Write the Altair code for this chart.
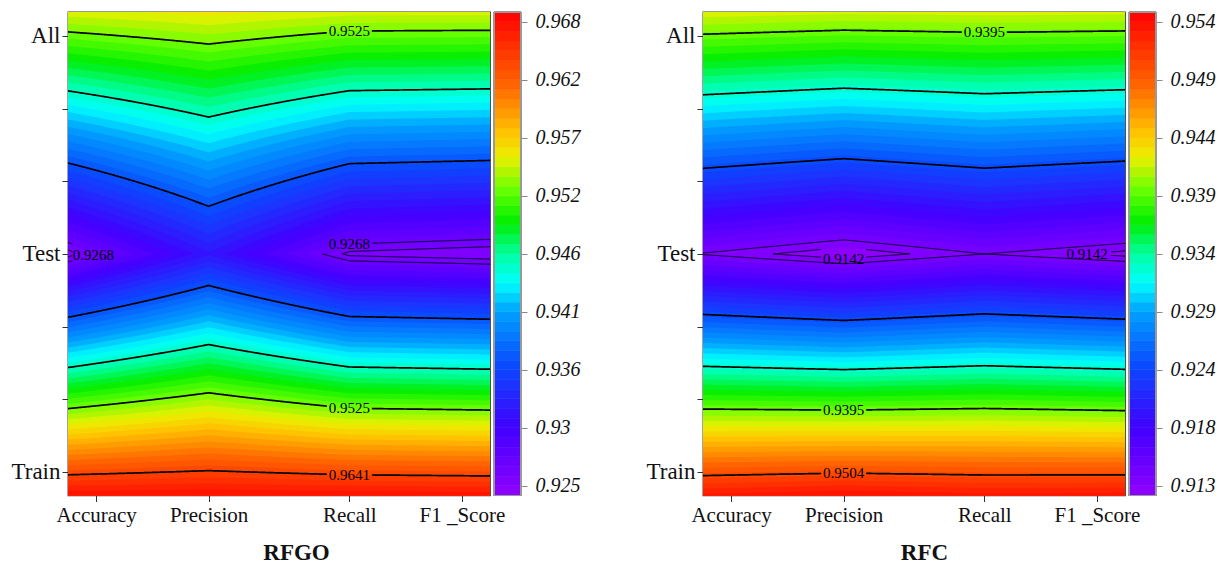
import altair as alt
import numpy as np
import pandas as pd

# ---------------- data ----------------
metrics = ["Accuracy", "Precision", "Recall", "F1 _Score"]
datasets = ["Train", "Test", "All"]

# RFGO: value per metric for each data set
rfgo_train = [0.9636, 0.9643, 0.9636, 0.9634]
rfgo_test = [0.9254, 0.9318, 0.9256, 0.9250]
rfgo_all = [0.9520, 0.9533, 0.9519, 0.9518]
rfgo_levels = [0.9259, 0.9268, 0.9365, 0.9453, 0.9525, 0.9641]
rfgo_cbar = [0.9239, 0.9687]          # colour-bar range (50 bands)

# RFC
rfc_train = [0.9498, 0.9502, 0.9499, 0.9499]
rfc_test = [0.9141, 0.9125, 0.9142, 0.91294]
rfc_all = [0.9393, 0.9388, 0.9391, 0.9389]
rfc_levels = [0.9133, 0.9142, 0.9240, 0.9325, 0.9395, 0.9504]
rfc_cbar = [0.91245, 0.9551]

# ---------------- display settings ----------------
NB = 50
XN = [0, 1, 2, 3]
Y0, Y1 = 0.892, 3.11
W, H = 422, 483.5
EPS = 0.004
FONT = "Liberation Serif"
x_ticks = [0.2, 1, 2, 2.8]
y_ticks = [1, 4 / 3, 5 / 3, 2, 7 / 3, 8 / 3, 3]
y_named = {1: datasets[0], 2: datasets[1], 3: datasets[2]}

stops = [(0.0, (145, 0, 255)), (0.14, (65, 0, 255)), (0.27, (10, 75, 255)),
         (0.38, (0, 160, 255)), (0.44, (0, 255, 255)), (0.50, (0, 255, 160)),
         (0.565, (0, 238, 0)), (0.63, (100, 255, 0)), (0.70, (235, 240, 0)),
         (0.75, (255, 195, 0)), (0.85, (255, 100, 0)), (1.0, (255, 0, 0))]


def cmap(s):
    for j in range(len(stops) - 1):
        s0, c0 = stops[j]
        s1, c1 = stops[j + 1]
        if s0 <= s <= s1:
            f = (s - s0) / (s1 - s0)
            c = [round(a + (b - a) * f) for a, b in zip(c0, c1)]
            return "#%02x%02x%02x" % tuple(c)
    return "#ff0000"


band_cols = [cmap((k + 0.5) / NB) for k in range(NB)]


def columns(train, test, all_, x):
    return (np.interp(x, XN, train), np.interp(x, XN, test), np.interp(x, XN, all_))


def fill_frame(train, test, all_, cbar):
    vmin, vmax = cbar
    band = (vmax - vmin) / NB
    xs = np.linspace(0, 3, 151)
    R, T, A = columns(train, test, all_, xs)
    parts = []
    for k in range(NB):
        L = vmin + k * band
        ylo = np.where(L > T, 2 - (L - T) / (R - T), 2 + EPS)
        ylo = np.clip(ylo, Y0, Y1)
        if not np.all(ylo <= Y0 + 1e-9):
            parts.append(pd.DataFrame({"x": xs.round(4), "y": ylo.round(5), "y2": Y0,
                                       "c": band_cols[k], "s": "%02da" % k}))
        yup = np.where(L > T, 2 + (L - T) / (A - T), 2.0)
        yup = np.clip(yup, Y0, Y1)
        if not np.all(yup >= Y1 - 1e-9):
            parts.append(pd.DataFrame({"x": xs.round(4), "y": yup.round(5), "y2": Y1,
                                       "c": band_cols[k], "s": "%02db" % k}))
    return pd.concat(parts, ignore_index=True)


def contour_frame(train, test, all_, levels, gaps):
    base = np.linspace(0, 3, 601)
    rows = []
    for li, L in enumerate(levels):
        extra = []
        for i in range(3):
            t0, t1 = test[i], test[i + 1]
            if (t0 - L) * (t1 - L) < 0:
                extra.append(i + (L - t0) / (t1 - t0))
        xx = np.unique(np.concatenate([base, np.array(extra)]))
        R, T, A = columns(train, test, all_, xx)
        for side in ("low", "up"):
            ok = T <= L + 1e-9
            if side == "low":
                y = 2 - (L - T) / (R - T)
            else:
                y = 2 + (L - T) / (A - T)
            ok &= (y > Y0 - 0.05) & (y < Y1 + 0.05)
            for (a, b) in gaps.get((li, side), []):
                ok &= ~((xx > a) & (xx < b))
            run = 0
            prev = False
            for x, yy, o in zip(xx, y, ok):
                if o:
                    if not prev:
                        run += 1
                    rows.append({"x": round(float(x), 4), "y": round(float(yy), 5),
                                 "s": "%d%s%d" % (li, side, run),
                                 "w": 0.9 if li < 2 else 1.7})
                prev = bool(o)
    return pd.DataFrame(rows)


def label_frame(train, test, all_, levels, labels):
    rows = []
    for (ti, x, yi, side) in labels:
        R, T, A = columns(train, test, all_, np.array([x]))
        L = levels[yi]
        d = max(L - T[0], 0.0)
        y = 2 - d / (R[0] - T[0]) if side == "low" else 2 + d / (A[0] - T[0])
        rows.append({"x": x, "y": y, "t": "%.4f" % levels[ti]})
    return pd.DataFrame(rows)


def cbar_frame(cbar):
    vmin, vmax = cbar
    band = (vmax - vmin) / NB
    return pd.DataFrame({"lo": [vmin + k * band for k in range(NB)],
                         "hi": [vmin + (k + 1) * band for k in range(NB)],
                         "c": band_cols})


x_expr = "".join("abs(datum.value-%s)<0.01 ? '%s' : " % (v, m) for v, m in zip(x_ticks, metrics)) + "''"
y_expr = "".join("abs(datum.value-%d)<0.01 ? '%s' : " % (v, n) for v, n in y_named.items()) + "''"


def panel(name, train, test, all_, levels, cbar, labels, gaps, title_x):
    xsc = alt.Scale(domain=[0, 3], nice=False, zero=False)
    ysc = alt.Scale(domain=[Y0, Y1], nice=False, zero=False)
    xax = alt.Axis(values=x_ticks, labelExpr=x_expr, title=name, grid=False, domain=False,
                   tickSize=6, tickColor="#333", labelFont=FONT, labelFontSize=21,
                   labelColor="#111", labelPadding=3, titleFont=FONT, titleFontSize=23,
                   titleFontWeight="bold", titleColor="#111", titleX=title_x, titleY=64,
                   titleBaseline="alphabetic", titleAlign="center")
    yax = alt.Axis(values=y_ticks, labelExpr=y_expr, title=None, grid=False, domain=False,
                   tickSize=6, tickColor="#333", labelFont=FONT, labelFontSize=23,
                   labelColor="#111", labelPadding=2)
    X = alt.X("x:Q", scale=xsc, axis=xax)
    Y = alt.Y("y:Q", scale=ysc, axis=yax)

    fill = alt.Chart(fill_frame(train, test, all_, cbar)).mark_area(
        orient="vertical", interpolate="linear").encode(
        x=X, y=Y, y2="y2:Q", color=alt.Color("c:N", scale=None), detail="s:N")
    lines = alt.Chart(contour_frame(train, test, all_, levels, gaps)).mark_line(
        color="black", clip=True).encode(
        x=X, y=Y, detail="s:N", strokeWidth=alt.StrokeWidth("w:Q", scale=None))
    texts = alt.Chart(label_frame(train, test, all_, levels, labels)).mark_text(
        font=FONT, fontSize=15, color="black", align="center", baseline="middle").encode(
        x=X, y=Y, text="t:N")
    main = alt.layer(fill, lines, texts)

    vmin, vmax = cbar
    band = (vmax - vmin) / NB
    ticks = [vmin + band * (1 + 6 * k) for k in range(9)]
    cb = alt.Chart(cbar_frame(cbar)).mark_rect(strokeWidth=0.6).encode(
        x=alt.value(426), x2=alt.value(453),
        y=alt.Y("lo:Q", scale=alt.Scale(domain=[vmin, vmax], nice=False, zero=False),
                axis=alt.Axis(orient="right", offset=31, values=ticks, format=".3~f",
                              domain=False, grid=False, title=None, tickSize=6,
                              tickColor="#888", labelFont=FONT, labelFontStyle="italic",
                              labelFontSize=20, labelColor="#111", labelPadding=8)),
        y2="hi:Q", color=alt.Color("c:N", scale=None), stroke=alt.Stroke("c:N", scale=None))
    frame = alt.Chart(cbar_frame(cbar)).mark_rect(filled=False, stroke="#999", strokeWidth=1).encode(
        x=alt.value(426), x2=alt.value(453), y=alt.value(0), y2=alt.value(H))
    side = alt.layer(cb, frame)
    return alt.layer(main, side).resolve_scale(y="independent").properties(width=W, height=H)


rfgo_labels = [(4, 2.0, 4, "up"), (4, 2.0, 4, "low"), (5, 2.0, 5, "low"),
               (1, 0.18, 1, "low"), (1, 2.0, 1, "up")]
rfgo_gaps = {(4, "up"): [(1.84, 2.16)], (4, "low"): [(1.84, 2.16)], (5, "low"): [(1.84, 2.16)],
             (1, "up"): [(1.70, 2.16), (0.03, 0.33)], (1, "low"): [(0.03, 0.33)],
             (0, "up"): [(0.03, 0.33)], (0, "low"): [(0.03, 0.33)]}
rfc_labels = [(4, 2.0, 4, "up"), (4, 1.0, 4, "low"), (5, 1.0, 5, "low"),
              (1, 1.0, 0, "low"), (1, 2.73, 0, "low")]
rfc_gaps = {(4, "up"): [(1.84, 2.16)], (4, "low"): [(0.84, 1.16)], (5, "low"): [(0.84, 1.16)],
            (0, "low"): [(0.84, 1.16), (2.57, 2.90)], (0, "up"): [(0.84, 1.16), (2.57, 2.90)]}

p1 = panel("RFGO", rfgo_train, rfgo_test, rfgo_all, rfgo_levels, rfgo_cbar, rfgo_labels, rfgo_gaps, 228)
p2 = panel("RFC", rfc_train, rfc_test, rfc_all, rfc_levels, rfc_cbar, rfc_labels, rfc_gaps, 221)

chart = alt.hconcat(p1, p2, spacing=213, bounds="flush").properties(
    padding={"left": 10, "top": 10, "right": 2, "bottom": 2},
    background="white",
).configure(font=FONT).configure_view(stroke="#333", strokeWidth=1.3)

chart.save("out.html", embed_options={"renderer": "svg", "actions": False})
